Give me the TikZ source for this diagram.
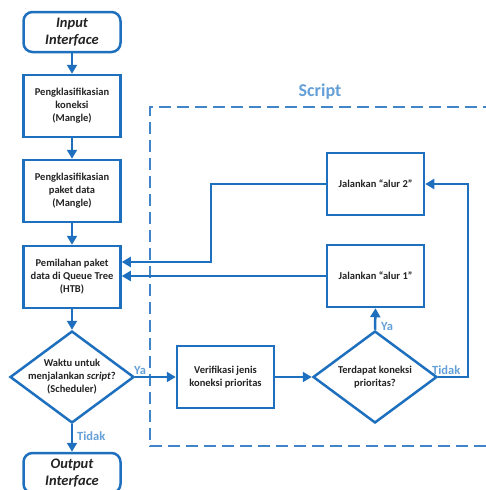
\documentclass[tikz,border=0pt]{standalone}
\usepackage{fontspec}
\setmainfont{Carlito}
\usetikzlibrary{arrows.meta,shapes.geometric}
\definecolor{lblue}{RGB}{30,112,190}
\definecolor{tblue}{RGB}{100,160,215}
\definecolor{txt}{RGB}{35,35,35}
\tikzset{
  box/.style={draw=lblue,line width=2.5pt,minimum width=97pt,minimum height=62pt,inner sep=1pt,align=center,font=\bfseries\fontsize{10.5}{13}\selectfont,text=txt},
  term/.style={draw=lblue,line width=2.5pt,rounded corners=9pt,minimum width=97pt,minimum height=40pt,inner sep=1pt,align=center,font=\bfseries\itshape\fontsize{14.5}{17}\selectfont,text=txt},
  diam/.style={draw=lblue,line width=2.5pt,shape=diamond,minimum width=124pt,minimum height=92pt,inner sep=0pt},
  dtext/.style={align=center,font=\bfseries\fontsize{10.5}{13}\selectfont,text=txt,inner sep=0pt},
  conn/.style={draw=lblue,line width=2.5pt,-{Triangle[length=9pt,width=10pt]}},
  lab/.style={font=\bfseries\fontsize{12.5}{14}\selectfont,text=tblue,inner sep=1pt},
  dashbox/.style={draw=lblue!85,line width=1.1pt,dash pattern=on 12pt off 6pt}
}
\begin{document}
\begin{tikzpicture}[x=1pt,y=-1pt]
\useasboundingbox (0,0) rectangle (486,490);
\clip (0,0) rectangle (486,490);
% dashed script area
\draw[dashbox] (495,107) -- (150,107) -- (150,446) -- (495,446);
\node[font=\bfseries\fontsize{18}{20}\selectfont,text=tblue] (scr) at (320,92) {Script};
% left column
\node[term] (in) at (72,32) {Input\\Interface};
\node[box] (b1) at (72,106) {Pengklasifikasian\\koneksi\\(Mangle)};
\node[box] (b2) at (72,191) {Pengklasifikasian\\paket data\\(Mangle)};
\node[box] (b3) at (72,277) {Pemilahan paket\\data di Queue Tree\\(HTB)};
\node[diam] (d1) at (72,377) {};
\node[dtext] (d1t) at (72,377) {Waktu untuk\\menjalankan \textit{script}?\\(Scheduler)};
\node[term] (out) at (72,473) {Output\\Interface};
% script part
\node[box] (a2) at (375.5,184) {Jalankan “alur 2”};
\node[box] (a1) at (375.5,276) {Jalankan “alur 1”};
\node[box] (ver) at (225.5,377) {Verifikasi jenis\\koneksi prioritas};
\node[diam] (d2) at (375,377) {};
\node[dtext] (d2t) at (375,377) {Terdapat koneksi\\prioritas?};
\coordinate (c2) at (468,377);
\coordinate (c3) at (468,184);
\coordinate (c4) at (211,184);
\coordinate (c5) at (211,262);
% connectors
\draw[conn] (in.south) -- (b1.north);
\draw[conn] (b1.south) -- (b2.north);
\draw[conn] (b2.south) -- (b3.north);
\draw[conn] (b3.south) -- (d1.north);
\draw[conn] (d1.east) -- (ver.west);
\node[lab,anchor=south west] (ya1) at (133,376) {Ya};
\draw[conn] (d1.south) -- (out.north);
\node[lab,anchor=west] (td1) at (76,436) {Tidak};
\draw[conn] (ver.east) -- (d2.west);
\draw[conn] (d2.north) -- (a1.south);
\node[lab,anchor=west] (ya2) at (380,326) {Ya};
\draw[conn] (d2.east) -- (c2) -- (c3) -- (a2.east);
\node[lab,anchor=south west] (td2) at (431,376) {Tidak};
\draw[conn] (a2.west) -- (c4) -- (c5) -- (b3.east |- c5);
\draw[conn] (a1.west) -- (b3.east |- a1.west);
\end{tikzpicture}
\end{document}
